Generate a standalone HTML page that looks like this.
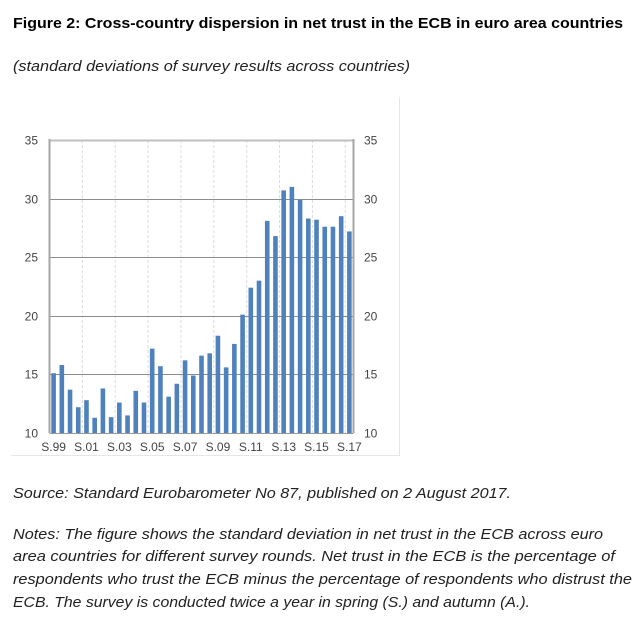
<!DOCTYPE html>
<html><head><meta charset="utf-8"><style>
html,body{margin:0;padding:0;background:#fff;width:635px;height:623px;overflow:hidden}
svg{display:block}
text{font-family:"Liberation Sans",sans-serif}
</style></head><body>
<svg id="fig" width="635" height="623">
<text x="13" y="28" font-size="15" font-weight="bold" fill="#000" textLength="610" lengthAdjust="spacingAndGlyphs">Figure 2: Cross-country dispersion in net trust in the ECB in euro area countries</text>
<text x="13" y="71" font-size="15" font-style="italic" fill="#222" textLength="397" lengthAdjust="spacingAndGlyphs">(standard deviations of survey results across countries)</text>
<line x1="399.5" y1="97" x2="399.5" y2="455" stroke="#e6e6e6"/>
<line x1="11" y1="455.5" x2="400" y2="455.5" stroke="#e6e6e6"/>
<g id="chart"></g>
<text x="13" y="498" font-size="15" font-style="italic" fill="#222" textLength="498" lengthAdjust="spacingAndGlyphs">Source: Standard Eurobarometer No 87, published on 2 August 2017.</text>
<text x="13" y="539" font-size="15" font-style="italic" fill="#222" textLength="590" lengthAdjust="spacingAndGlyphs">Notes: The figure shows the standard deviation in net trust in the ECB across euro</text>
<text x="13" y="561" font-size="15" font-style="italic" fill="#222" textLength="602" lengthAdjust="spacingAndGlyphs">area countries for different survey rounds. Net trust in the ECB is the percentage of</text>
<text x="13" y="584" font-size="15" font-style="italic" fill="#222" textLength="619" lengthAdjust="spacingAndGlyphs">respondents who trust the ECB minus the percentage of respondents who distrust the</text>
<text x="13" y="607" font-size="15" font-style="italic" fill="#222" textLength="517" lengthAdjust="spacingAndGlyphs">ECB. The survey is conducted twice a year in spring (S.) and autumn (A.).</text>
</svg>
<script>
const values = [15.1,15.8,13.7,12.2,12.8,11.3,13.8,11.35,12.6,11.5,13.6,12.6,17.2,15.7,13.1,14.2,16.2,14.9,16.6,16.8,18.3,15.6,17.6,20.1,22.4,23.0,28.1,26.8,30.7,31.0,29.9,28.3,28.2,27.6,27.6,28.5,27.2];
const xLabels = ["S.99","S.01","S.03","S.05","S.07","S.09","S.11","S.13","S.15","S.17"];
const yTicks = [10,15,20,25,30,35];

const NS="http://www.w3.org/2000/svg";
const g=document.getElementById('chart');
const L=49.5,R=353.5,T=140,B=433;
const yMin=10,yMax=35;
const n=values.length, cw=(R-L)/n;
const y=v=>B-(v-yMin)/(yMax-yMin)*(B-T);
const x=i=>L+cw*(i+0.5);
function mk(tag,attrs){const e=document.createElementNS(NS,tag);for(const k in attrs)e.setAttribute(k,attrs[k]);g.appendChild(e);return e;}
// vertical dashed gridlines
for(let i=4;i<n;i+=4){
  const e=mk('line',{x1:L+cw*i,x2:L+cw*i,y1:T,y2:B,stroke:'#dcdcdc','stroke-dasharray':'3,2'});
  
  
}
yTicks.forEach(t=>{
  const yy=Math.round(y(t))+0.5;
  const top=t===yMax;
  const ln=mk('line',{x1:L,x2:R,y1:yy,y2:yy,stroke:top?'#bfbfbf':(t===yMin?'#999':'#8c8c8c'),'stroke-width':top?2:1});
  
  
  const a=mk('text',{x:38,y:yy+4,'font-size':12,fill:'#444','text-anchor':'end'});a.textContent=t;
  
  
  const b=mk('text',{x:364,y:yy+4,'font-size':12,fill:'#444'});b.textContent=t;
  
  
});
// axes borders
const la=mk('line',{x1:L,x2:L,y1:T-1,y2:B,stroke:'#a6a6a6','stroke-width':2});


const ra=mk('line',{x1:R,x2:R,y1:T-1,y2:B,stroke:'#a6a6a6','stroke-width':2});


values.forEach((v,i)=>{
  const bw=4.6;
  const r=mk('rect',{x:x(i)-bw/2,y:y(v),width:bw,height:B-y(v),fill:'#4f81bd'});
  
  
});
xLabels.forEach((s,k)=>{
  const t=mk('text',{x:x(k*4),y:451,'font-size':12,fill:'#444','text-anchor':'middle'});
  t.textContent=s;
  
  
});
</script>
</body></html>
